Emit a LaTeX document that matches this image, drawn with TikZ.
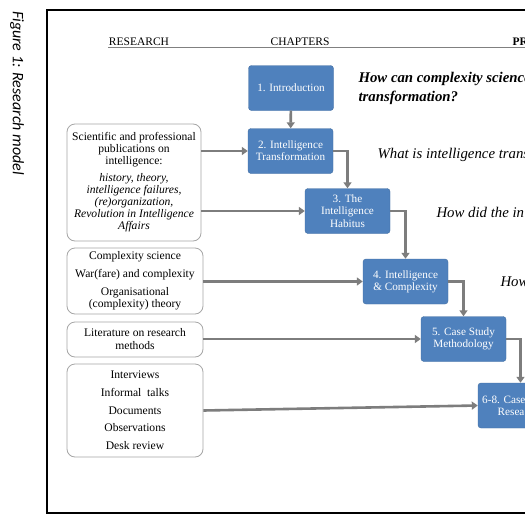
\documentclass[tikz,border=0pt]{standalone}
\usepackage{fontspec}
\setmainfont{Liberation Serif}
\newfontfamily\capfont{Carlito}
\usetikzlibrary{arrows.meta}
\definecolor{bluebox}{RGB}{79,129,189}
\definecolor{arrowgray}{RGB}{125,125,125}
\begin{document}
\begin{tikzpicture}[x=1pt,y=-1pt,
  chap/.style={rounded corners=3pt, fill=bluebox, draw=bluebox!85!black, line width=0.4pt,
    text=white, minimum width=85pt, minimum height=45pt, align=center,
    font=\fontsize{11.2}{12.2}\selectfont, inner sep=1pt},
  src/.style={rounded corners=8pt, draw=gray!70, line width=0.8pt, fill=white,
    align=center, inner sep=1pt, font=\fontsize{11.6}{12}\selectfont},
  flow/.style={draw=arrowgray, line width=2.6pt, -{Triangle[length=6pt,width=8pt]}},
  hdr/.style={font=\fontsize{11.5}{12}\selectfont, anchor=base},
  q/.style={anchor=base west, font=\fontsize{14.8}{16}\selectfont\itshape},
]
\clip (0,0) rectangle (525,525);
\fill[white] (0,0) rectangle (525,525);

% caption
\node[rotate=-90, font=\capfont\itshape\fontsize{16}{18}\selectfont] (cap) at (17,93) {Figure 1: Research model};

% frame
\draw[line width=1.2pt] (530,10) -- (47,10) -- (47,513) -- (530,513);

% header
\node[hdr] (h1) at (139,45) {RESEARCH};
\node[hdr] (h2) at (300,45) {CHAPTERS};
\node[hdr, anchor=base west, font=\fontsize{11.5}{12}\selectfont\bfseries] (h3) at (509,45) {PR};
\coordinate (ulA) at (108,47.5);
\coordinate (ulB) at (530,47.5);
\draw[gray, line width=0.8pt] (ulA) -- (ulB);

% chapter boxes
\node[chap] (c1) at (291,88) {1. Introduction};
\node[chap] (c2) at (290.5,151) {2. Intelligence\\Transformation};
\node[chap] (c3) at (347.5,211) {3. The\\Intelligence\\Habitus};
\node[chap] (c4) at (405.5,281.5) {4. Intelligence\\\& Complexity};
\node[chap] (c5) at (463.5,339) {5. Case Study\\Methodology};
\node[chap] (c6) at (520.5,405.5) {};
\node[anchor=base west, text=white, inner sep=0pt, font=\fontsize{11.2}{12}\selectfont] (c6a) at (482,403) {6-8. Case};
\node[anchor=base west, text=white, inner sep=0pt, font=\fontsize{11.2}{12}\selectfont] (c6b) at (497.5,415.5) {Resea};

% source boxes
\node[src, minimum width=134pt, minimum height=117pt] (A) at (134,182.5)
  {Scientific and professional\\publications on\\intelligence:\\[5pt]
   \itshape history, theory,\\\itshape intelligence failures,\\\itshape (re)organization,\\\itshape Revolution in Intelligence\\\itshape Affairs};
\node[src, minimum width=136pt, minimum height=66pt] (B) at (135,281)
  {Complexity science\\[6pt]War(fare) and complexity\\[6pt]Organisational\\(complexity) theory};
\node[src, minimum width=136pt, minimum height=35pt, font=\fontsize{11.6}{13}\selectfont] (C) at (135,339.5)
  {Literature on research\\methods};
\node[src, minimum width=136pt, minimum height=93pt, font=\fontsize{11.6}{17.7}\selectfont] (D) at (135,410.5)
  {Interviews\\Informal\ \ talks\\Documents\\Observations\\Desk review};

% chapter flow
\draw[flow] (c1) -- (c2);
\draw[flow] (c2.east) -| (c3.north);
\draw[flow] (c3.east) -| (c4.north);
\draw[flow] (c4.east) -| (c5.north);
\draw[flow] (c5.east) -| (c6.north);

% source arrows
\draw[flow] (A.east |- c2.west) -- (c2.west);
\draw[flow] (A.east |- c3.west) -- (c3.west);
\draw[flow] (B.east |- c4.west) -- (c4.west);
\draw[flow] (C.east |- c5.west) -- (c5.west);
\draw[flow] (D.east) -- (c6.west);

% questions
\node[q, font=\fontsize{14.8}{16}\selectfont\bfseries\itshape] (q1) at (355,82) {How can complexity science};
\node[q, font=\fontsize{14.8}{16}\selectfont\bfseries\itshape] (q1b) at (355,101) {transformation?};
\node[q] (q2) at (374,158) {What is intelligence trans};
\node[q] (q3) at (433,217) {How did the in};
\node[q] (q4) at (497,286) {How};
\end{tikzpicture}
\end{document}
